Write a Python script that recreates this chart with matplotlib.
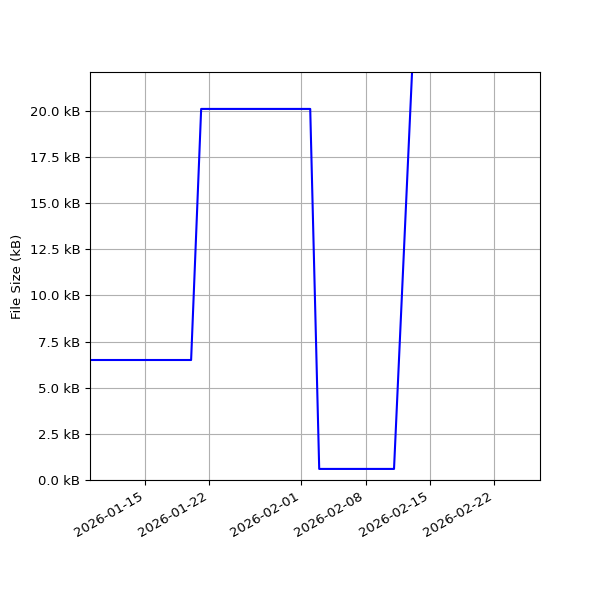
import numpy as np
import pandas as pd
import matplotlib
matplotlib.use("Agg")
import matplotlib.pyplot as plt
import matplotlib.dates as mdates
from matplotlib.ticker import FuncFormatter

plt.rcParams['font.size'] = 9.5

# file size history (kB)
dates = pd.to_datetime(["2026-01-09 00:00", "2026-01-20 00:15", "2026-01-21 02:30",
                        "2026-02-01 23:30", "2026-02-02 23:00", "2026-02-11 02:30",
                        "2026-02-14 00:00"])
sizes = [6.5, 6.5, 20.1, 20.1, 0.6, 0.6, 32.3]

fig, ax = plt.subplots(figsize=(6, 6), dpi=100)
ax.plot(dates, sizes, color="blue")
ax.set_ylim(0, 22.1)
ax.set_xlim(pd.Timestamp("2026-01-09"), pd.Timestamp("2026-02-27"))
ax.xaxis.set_major_locator(mdates.DayLocator(bymonthday=[1, 8, 15, 22]))
ax.xaxis.set_major_formatter(mdates.DateFormatter("%Y-%m-%d"))
ax.yaxis.set_major_formatter(FuncFormatter(lambda v, p: "%.1f kB" % v))
ax.set_ylabel("File Size (kB)")
ax.grid(True)
fig.autofmt_xdate()
fig.subplots_adjust(left=0.15)
fig.savefig("out.png")
